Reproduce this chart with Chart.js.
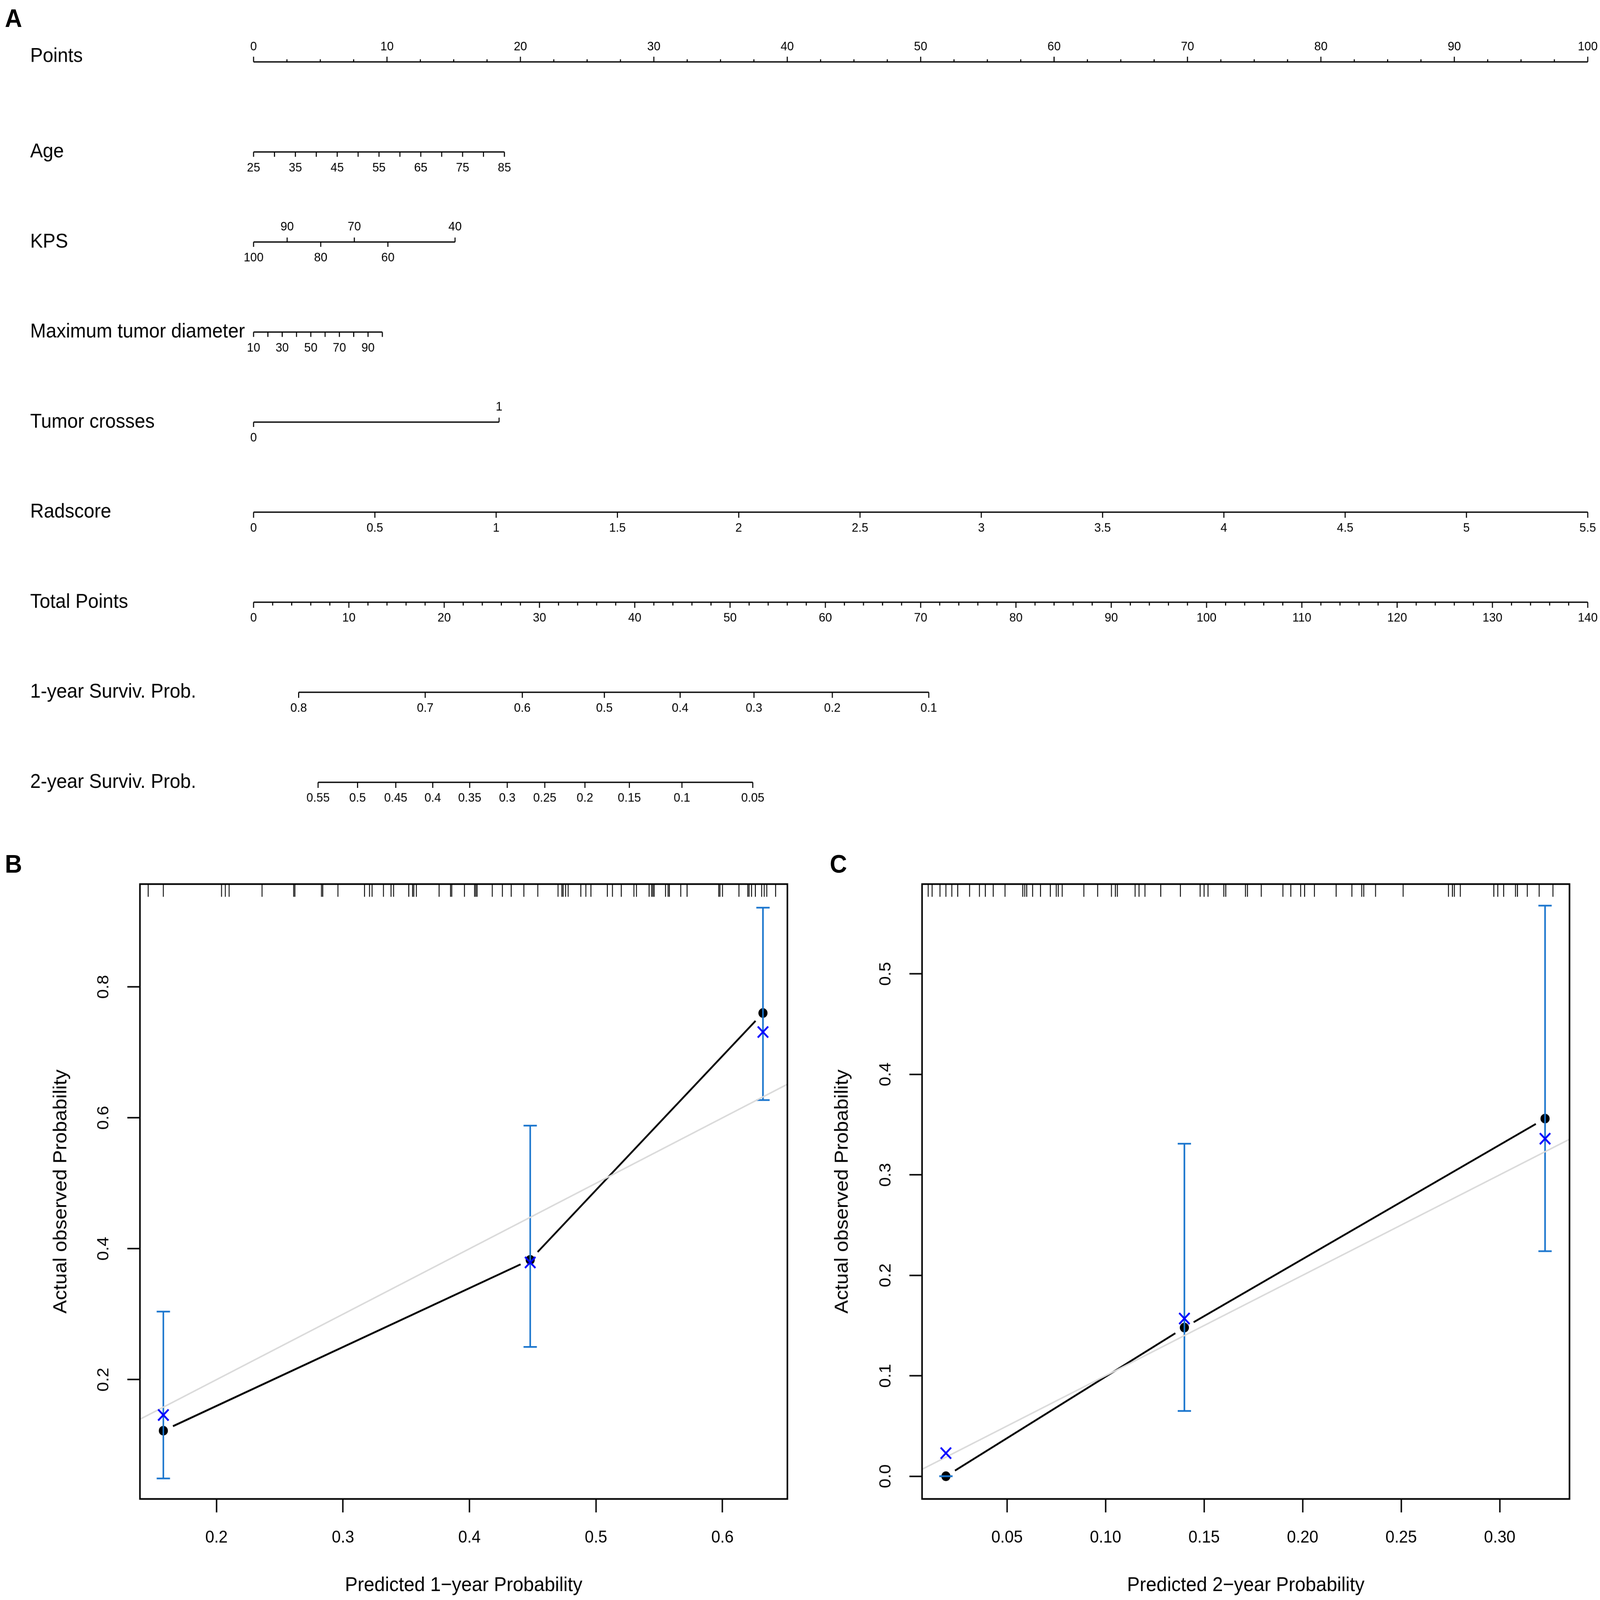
<!DOCTYPE html>
<html>
<head>
<meta charset="utf-8">
<script src="https://cdn.jsdelivr.net/npm/chart.js@4.4.1/dist/chart.umd.min.js"></script>
<style>
  html, body { margin: 0; padding: 0; background: #fff; overflow: hidden; }
  body { font-family: "Liberation Sans", Arial, Helvetica, sans-serif; }
  #page { position: absolute; left: 0; top: 0; width: 4562px; height: 4291px; transform-origin: 0 0; background: #fff; }
  .box { position: absolute; }
  .tag { position: absolute; font-weight: bold; font-size: 68px; line-height: 1; color: #000; }
</style>
</head>
<body>
<div id="page">
<div class="tag" style="left:14px;top:14px;">A</div>
<div class="tag" style="left:14px;top:2282px;">B</div>
<div class="tag" style="left:2366px;top:2282px;">C</div>

<div class="box" style="left:0;top:0;width:4562px;height:2250px;"><canvas id="nomo" width="4562" height="2250"></canvas></div>
<div class="box" style="left:0;top:2250px;width:2300px;height:2041px;"><canvas id="calB" width="2300" height="2041"></canvas></div>
<div class="box" style="left:2300px;top:2250px;width:2262px;height:2041px;"><canvas id="calC" width="2262" height="2041"></canvas></div>
</div>

<script>
const FONT = '"Liberation Sans", Arial, Helvetica, sans-serif';

// ---- Panel A: nomogram ----
const rowNames = ['Points', 'Age', 'KPS', 'Maximum tumor diameter', 'Tumor crosses',
                  'Radscore', 'Total Points', '1-year Surviv. Prob.', '2-year Surviv. Prob.'];

const pointsLabels = [0, 10, 20, 30, 40, 50, 60, 70, 80, 90, 100];

const ageTicks = [25, 30, 35, 40, 45, 50, 55, 60, 65, 70, 75, 80, 85];
const ageLabels = [25, 35, 45, 55, 65, 75, 85];
const ageSpanPts = [0, 18.8];          // age 25 -> 0 pts, age 85 -> 18.8 pts

const kpsAbove = [90, 70, 40];
const kpsBelow = [100, 80, 60];
const kpsSpanPts = [0, 15.1];          // KPS 100 -> 0 pts, KPS 40 -> 15.1 pts

const diamTicks = [10, 20, 30, 40, 50, 60, 70, 80, 90, 100];
const diamLabels = [10, 30, 50, 70, 90];
const diamSpanPts = [0, 9.65];         // 10 -> 0 pts, 100 -> 9.65 pts

const crossesSpanPts = [0, 18.4];      // 0 -> 0 pts, 1 -> 18.4 pts

const radLabels = [0, 0.5, 1, 1.5, 2, 2.5, 3, 3.5, 4, 4.5, 5, 5.5];
const radSpanPts = [0, 100];

const totalLabels = [0, 10, 20, 30, 40, 50, 60, 70, 80, 90, 100, 110, 120, 130, 140];
const totalMax = 140;

const surv1Labels = ['0.8', '0.7', '0.6', '0.5', '0.4', '0.3', '0.2', '0.1'];
const surv1Total = [4.73, 18.01, 28.20, 36.81, 44.76, 52.51, 60.73, 70.85];

const surv2Labels = ['0.55', '0.5', '0.45', '0.4', '0.35', '0.3', '0.25', '0.2', '0.15', '0.1', '0.05'];
const surv2Total = [6.77, 10.91, 14.92, 18.80, 22.68, 26.62, 30.56, 34.77, 39.43, 44.95, 52.38];

// ---- Panel B: 1-year calibration ----
const predB = [0.158, 0.448, 0.632];
const obsB = [0.122, 0.383, 0.760];
const corrB = [0.146, 0.379, 0.731];
const loB = [0.049, 0.250, 0.627];
const hiB = [0.304, 0.588, 0.921];
const xTicksB = [0.2, 0.3, 0.4, 0.5, 0.6];
const xTickLabelsB = ['0.2', '0.3', '0.4', '0.5', '0.6'];
const yTicksB = [0.2, 0.4, 0.6, 0.8];
const yTickLabelsB = ['0.2', '0.4', '0.6', '0.8'];
const rugB = [0.146, 0.158, 0.204, 0.207, 0.210, 0.236, 0.261, 0.262, 0.283, 0.284, 0.296, 0.317,
  0.321, 0.323, 0.332, 0.338, 0.340, 0.352, 0.355, 0.356, 0.358, 0.376, 0.385, 0.386, 0.396, 0.404,
  0.405, 0.406, 0.418, 0.426, 0.433, 0.443, 0.454, 0.470, 0.473, 0.474, 0.476, 0.478, 0.488, 0.492,
  0.496, 0.509, 0.513, 0.513, 0.520, 0.530, 0.532, 0.542, 0.544, 0.545, 0.546, 0.555, 0.557, 0.558,
  0.567, 0.572, 0.597, 0.598, 0.600, 0.613, 0.620, 0.621, 0.623, 0.626, 0.631, 0.633, 0.635, 0.642];

// ---- Panel C: 2-year calibration ----
const predC = [0.019, 0.140, 0.323];
const obsC = [0.000, 0.148, 0.356];
const corrC = [0.023, 0.157, 0.336];
const loC = [0.000, 0.065, 0.224];
const hiC = [0.000, 0.331, 0.568];
const xTicksC = [0.05, 0.10, 0.15, 0.20, 0.25, 0.30];
const xTickLabelsC = ['0.05', '0.10', '0.15', '0.20', '0.25', '0.30'];
const yTicksC = [0.0, 0.1, 0.2, 0.3, 0.4, 0.5];
const yTickLabelsC = ['0.0', '0.1', '0.2', '0.3', '0.4', '0.5'];
const rugC = [0.010, 0.012, 0.016, 0.019, 0.019, 0.022, 0.025, 0.031, 0.036, 0.039, 0.043, 0.049,
  0.058, 0.059, 0.060, 0.063, 0.067, 0.067, 0.072, 0.075, 0.076, 0.078, 0.089, 0.089, 0.096, 0.103,
  0.105, 0.106, 0.115, 0.117, 0.120, 0.128, 0.138, 0.148, 0.150, 0.152, 0.152, 0.160, 0.161, 0.171,
  0.172, 0.179, 0.190, 0.194, 0.199, 0.201, 0.206, 0.217, 0.225, 0.230, 0.231, 0.231, 0.237, 0.251,
  0.274, 0.276, 0.277, 0.280, 0.297, 0.299, 0.302, 0.302, 0.308, 0.309, 0.314, 0.320, 0.320, 0.327];

// the browser window is smaller than 4562x4291, so stretch the layout to fill it
const fitX = window.innerWidth / 4562, fitY = window.innerHeight / 4291;
document.getElementById('page').style.transform = 'scale(' + fitX + ',' + fitY + ')';

Chart.defaults.font.family = FONT;
Chart.defaults.color = '#000';

// map a variable value onto the 0-100 Points scale
function lin(v, v0, v1, p0, p1) {
    return p0 + (v - v0) * (p1 - p0) / (v1 - v0);
}
function tick(pts, dir, len, label) {
    return { pts: pts, dir: dir, len: len, label: label };
}

// build tick lists for each nomogram row
const pointsRow = [];
pointsLabels.forEach((v, i) => {
    pointsRow.push(tick(v, -1, 14, String(v)));
    if (i < pointsLabels.length - 1) {
        const step = (pointsLabels[i + 1] - v) / 4;
        for (let k = 1; k < 4; k++) pointsRow.push(tick(v + k * step, -1, 7, null));
    }
});

const ageRow = ageTicks.map(v => tick(lin(v, 25, 85, ageSpanPts[0], ageSpanPts[1]), 1, 13,
    ageLabels.includes(v) ? String(v) : null));

const kpsRow = kpsAbove.map(v => tick(lin(v, 100, 40, kpsSpanPts[0], kpsSpanPts[1]), -1, 12, String(v)))
    .concat(kpsBelow.map(v => tick(lin(v, 100, 40, kpsSpanPts[0], kpsSpanPts[1]), 1, 13, String(v))));

const diamRow = diamTicks.map(v => tick(lin(v, 10, 100, diamSpanPts[0], diamSpanPts[1]), 1, 13,
    diamLabels.includes(v) ? String(v) : null));

const crossesRow = [tick(crossesSpanPts[0], 1, 13, '0'), tick(crossesSpanPts[1], -1, 12, '1')];

const radRow = radLabels.map(v => tick(lin(v, 0, 5.5, radSpanPts[0], radSpanPts[1]), 1, 15, String(v)));

const totalRow = [];
totalLabels.forEach((v, i) => {
    totalRow.push(tick(v * 100 / totalMax, 1, 15, String(v)));
    if (i < totalLabels.length - 1) {
        const step = (totalLabels[i + 1] - v) / 5;
        for (let k = 1; k < 5; k++) totalRow.push(tick((v + k * step) * 100 / totalMax, 1, 9, null));
    }
});

const surv1Row = surv1Labels.map((l, i) => tick(surv1Total[i] * 100 / totalMax, 1, 15, l));
const surv2Row = surv2Labels.map((l, i) => tick(surv2Total[i] * 100 / totalMax, 1, 15, l));

const nomoRows = [pointsRow, ageRow, kpsRow, diamRow, crossesRow, radRow, totalRow, surv1Row, surv2Row];

// one baseline dataset per row, spanning its first to last tick
const baselineSets = nomoRows.map((ticks, r) => {
    const p = ticks.map(t => t.pts);
    return {
        data: [{ x: Math.min(...p), y: r }, { x: Math.max(...p), y: r }],
        borderColor: '#000', borderWidth: 3.5, pointRadius: 0, clip: false
    };
});

const nomogramAxes = {
    id: 'nomogramAxes',
    afterDatasetsDraw(chart) {
        const { ctx, scales: { x, y } } = chart;
        ctx.save();
        ctx.strokeStyle = '#000';
        ctx.fillStyle = '#000';
        ctx.lineWidth = 3;
        ctx.textBaseline = 'middle';
        nomoRows.forEach((ticks, r) => {
            const py = y.getPixelForValue(r);
            ctx.font = '54px ' + FONT;
            ctx.textAlign = 'left';
            ctx.fillText(rowNames[r], 86, py + (r === 0 ? -15 : 0));
            ctx.font = '34px ' + FONT;
            ctx.textAlign = 'center';
            ticks.forEach(t => {
                const px = x.getPixelForValue(t.pts);
                ctx.beginPath();
                ctx.moveTo(px, py);
                ctx.lineTo(px, py + t.dir * t.len);
                ctx.stroke();
                if (t.label !== null) ctx.fillText(t.label, px, py + (t.dir < 0 ? -40 : 43));
            });
        });
        ctx.restore();
    }
};

new Chart(document.getElementById('nomo'), {
    type: 'line',
    data: { datasets: baselineSets },
    options: {
        responsive: false, animation: false, devicePixelRatio: 1, events: [],
        layout: { padding: { left: 723, right: 35, top: 166, bottom: 152 } },
        plugins: { legend: { display: false }, tooltip: { enabled: false } },
        scales: {
            x: { type: 'linear', min: 0, max: 100, display: false },
            y: { type: 'linear', min: 0, max: 8, reverse: true, display: false }
        }
    },
    plugins: [nomogramAxes]
});

// ---- Panels B and C ----
const frameAndRug = {
    id: 'frameAndRug',
    afterDatasetsDraw(chart, args, opts) {
        const { ctx, chartArea: a, scales: { x } } = chart;
        ctx.save();
        ctx.strokeStyle = '#000';
        ctx.lineWidth = 2.5;
        ctx.beginPath();
        opts.values.forEach(v => {
            const px = x.getPixelForValue(v);
            ctx.moveTo(px, a.top);
            ctx.lineTo(px, a.top + 34);
        });
        ctx.stroke();
        ctx.lineWidth = 4.5;
        ctx.strokeRect(a.left, a.top, a.right - a.left, a.bottom - a.top);
        ctx.restore();
    }
};

function calibrationChart(id, p) {
    const datasets = [];
    // apparent calibration (type "b": white ring leaves a gap between line and dot)
    datasets.push({
        data: p.pred.map((v, i) => ({ x: v, y: p.obs[i] })),
        borderColor: '#000', borderWidth: 5, pointRadius: 21.5,
        pointBackgroundColor: '#000', pointBorderColor: '#fff', pointBorderWidth: 17, order: 4
    });
    // error bars
    p.pred.forEach((v, i) => datasets.push({
        data: [{ x: v, y: p.lo[i] }, { x: v, y: p.hi[i] }],
        borderColor: '#1874CD', borderWidth: 4.5, pointStyle: 'line', pointRadius: 19,
        pointBorderColor: '#1874CD', pointBorderWidth: 4.5, order: 3
    }));
    // ideal 45-degree line
    datasets.push({
        data: [{ x: p.xRange[0], y: p.xRange[0] }, { x: p.xRange[1], y: p.xRange[1] }],
        borderColor: '#d9d9d9', borderWidth: 4, pointRadius: 0, order: 2
    });
    // bias-corrected estimates
    datasets.push({
        data: p.pred.map((v, i) => ({ x: v, y: p.corr[i] })),
        showLine: false, pointStyle: 'crossRot', pointRadius: 21,
        pointBorderColor: '#0000ff', pointBorderWidth: 5, order: 1
    });

    const tickFont = { size: 46, family: FONT };
    const titleFont = { size: 54, family: FONT };
    new Chart(document.getElementById(id), {
        type: 'line',
        data: { datasets: datasets },
        options: {
            responsive: false, animation: false, devicePixelRatio: 1, events: [],
            layout: { padding: { left: 0, right: p.padRight, top: 121, bottom: 0 } },
            plugins: { legend: { display: false }, tooltip: { enabled: false }, frameAndRug: { values: p.rug } },
            scales: {
                x: {
                    type: 'linear', position: 'bottom', min: p.xRange[0], max: p.xRange[1],
                    afterBuildTicks: s => { s.ticks = p.xTicks.map(v => ({ value: v })); },
                    afterFit: s => { s.height = 271; },
                    border: { display: false },
                    grid: { drawOnChartArea: false, tickLength: 36, tickWidth: 4, tickColor: '#000' },
                    ticks: { font: tickFont, color: '#000', padding: 41, maxRotation: 0, autoSkip: false,
                             callback: (v, i) => p.xTickLabels[i] },
                    title: { display: true, text: p.xTitle, font: titleFont, color: '#000',
                             padding: { top: 0, bottom: 6 } }
                },
                y: {
                    type: 'linear', position: 'left', min: p.yRange[0], max: p.yRange[1],
                    afterBuildTicks: s => { s.ticks = p.yTicks.map(v => ({ value: v })); },
                    afterFit: s => { s.width = p.yWidth; },
                    border: { display: false },
                    grid: { drawOnChartArea: false, tickLength: 36, tickWidth: 4, tickColor: '#000' },
                    ticks: { font: tickFont, color: '#000', padding: 35, minRotation: 90, maxRotation: 90,
                             crossAlign: 'center', autoSkip: false,
                             callback: (v, i) => p.yTickLabels[i] },
                    title: { display: true, text: 'Actual observed Probability', font: titleFont, color: '#000',
                             padding: { top: p.yTitlePad, bottom: 0 } }
                }
            }
        },
        plugins: [frameAndRug]
    });
}

calibrationChart('calB', {
    pred: predB, obs: obsB, corr: corrB, lo: loB, hi: hiB, rug: rugB,
    xRange: [0.1395, 0.6513], yRange: [0.0177, 0.957],
    xTicks: xTicksB, xTickLabels: xTickLabelsB, yTicks: yTicksB, yTickLabels: yTickLabelsB,
    xTitle: 'Predicted 1\u2212year Probability',
    yWidth: 399, padRight: 55, yTitlePad: 142
});

calibrationChart('calC', {
    pred: predC, obs: obsC, corr: corrC, lo: loC, hi: hiC, rug: rugC,
    xRange: [0.0069, 0.3354], yRange: [-0.0226, 0.5894],
    xTicks: xTicksC, xTickLabels: xTickLabelsC, yTicks: yTicksC, yTickLabels: yTickLabelsC,
    xTitle: 'Predicted 2\u2212year Probability',
    yWidth: 329, padRight: 87, yTitlePad: 70
});
</script>
</body>
</html>
